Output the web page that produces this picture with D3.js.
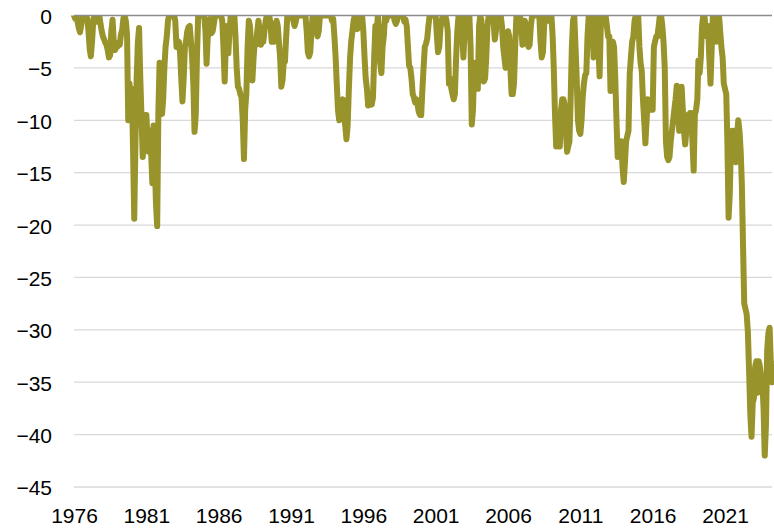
<!DOCTYPE html>
<html>
<head>
<meta charset="utf-8">
<script src="https://cdn.jsdelivr.net/npm/d3@7"></script>
<style>
  html, body { margin: 0; padding: 0; background: #fff; }
  svg { display: block; font-family: Lato, 'Open Sans', sans-serif; }
</style>
</head>
<body>
<div class="chart"></div>
<script>
'use strict';

// Monthly drawdown (%), first value = Jan of the start year
const startYear = 1976;

const v1970s = [
  0, -0.3, -0.2, -0.6, -1.2, -1.6, -0.9, 0, 0, 0, 0, -0.3,            // 1976
  -1.5, -3.2, -3.9, -2.5, -0.5, 0, 0, -0.6, 0, 0, -0.8, -1.5,        // 1977
  -2, -2.3, -2.6, -2.8, -3.3, -4, -3.8, -1.5, -0.4, -2.5, -3.3, -3,  // 1978
  -3, -2.6, -2.8, -1.8, -1.4, -0.3, 0, -0.5, -1.8, -10, -6.5, -8     // 1979
];

const v1980s = [
  -7, -13, -19.4, -12, -6, -2.5, -1.2, -6, -9.7, -13.5, -12, -9.5,
  -9.5, -12, -13, -11, -13, -16, -10.5, -14, -18, -20.1, -9, -4.5,
  -7, -9.4, -8, -5, -3, -2, -0.5, 0, 0, 0, 0, 0,
  -0.5, -3, -3, -2.5, -3.5, -6, -8.2, -6, -3, -2.4, -1.5, -1.1,
  -1, -2.5, -4, -6.5, -11.1, -9.5, -4, 0, 0, 0, 0, 0,
  0, -1.5, -4.6, -2, -1.7, -0.3, -1.7, -1.5, -0.8, 0, 0, 0,
  0, 0, 0, -0.5, -3, -6.3, -2.5, -1, -3.6, -1.5, 0, 0,
  0, 0, -2, -5, -6.8, -7, -7.5, -7.8, -10, -13.7, -9, -7.4,
  -3, -0.5, -1, -3, -6.2, -4, -2.5, -2.8, -1.5, -0.5, -1.5, -2.8,
  -2.5, -2.5, -1.5, -0.5, 0, 0, 0, -0.8, -2.5, -2.3, -2.5, -1
];

const v1990s = [
  -0.5, -1, -2.5, -4, -6.8, -6.2, -4.5, -4.4, -2, 0, 0, 0,
  0, 0, -0.5, -1, -0.6, 0, 0, 0, 0, 0, 0, 0,
  0, -1.5, -3.5, -3.9, -3.5, -1.5, 0, 0, 0, -1, -2, -1.5,
  0, 0, 0, 0, 0, 0, 0, 0, 0, 0, -0.5, -0.3,
  -2, -4, -6.5, -9, -10, -9.5, -8.5, -8, -9.5, -10.5, -11.8, -10.5,
  -7, -4, -2.5, -1.5, -0.5, 0, -0.5, -1.3, 0, 0, 0, 0,
  -1.5, -4, -6, -7, -8.6, -8, -8.2, -8.5, -7.8, -4, -1, -2,
  0, -2, -4.5, -5.5, -3, -2, 0, -0.5, 0, 0, 0, 0,
  0, 0, -0.5, -0.8, -0.5, 0, 0, 0, 0, 0, -0.6, -0.4,
  -1, -3, -4.8, -5, -6, -7.5, -7.8, -8.3, -8, -8.5, -9.2, -9.5
];

const v2000s = [
  -9.5, -7, -5, -3, -2.7, -2.2, -1, 0, 0, 0, 0, 0,
  0, -2, -3.5, -3, -1.2, -0.5, 0, 0, 0, -0.5, -1.5, -6.5,
  -6, -7, -7.5, -8, -7.5, -4, -1.5, 0, 0, 0, -1.5, -4,
  -1.5, 0, 0, -0.5, 0, -3, -10.4, -9, -4.5, -5, -5, -7,
  -1, 0, -0.5, -4.5, -6.3, -6, -4, -1, 0, 0, 0, -0.5,
  -0.5, -2.3, -1.5, 0, 0, 0, 0, -1, -3, -4, -5, -2,
  -1.5, -2, -5, -7.5, -7.5, -6.5, -3, 0, 0, 0, 0, -1,
  -2.8, -1.5, -0.5, -1, -2.5, -3, -2.8, -1, 0, 0, 0, 0,
  0, 0, 0, -2.5, -4, -3.5, -1, 0, 0, -0.5, 0, 0,
  0, -2, -5, -9.4, -12.5, -12, -12.5, -12.5, -9, -8, -8, -8.5
];

const v2010s = [
  -11, -13, -12.5, -12, -8, -3, -0.5, 0, -3, -6, -10, -11,
  -11.3, -10, -7.8, -6.5, -5.7, -5.5, -2, 0, 0, 0, -1, -4,
  -2, 0, 0, -3, -5.8, -1, 0, 0, 0, 0, -1, -2,
  -2, -7.2, -4, -2.5, -3, -6, -10, -13.5, -13, -12.5, -12, -14.5,
  -15.9, -14, -12, -11.5, -11, -5.5, -4, -2.5, -2, -0.5, 0, 0,
  0, -3, -4.5, -5.3, -8, -10, -12.2, -10, -8, -8.5, -9, -9,
  -9, -3, -2.5, -2, -2, -1, 0, 0, -1, -2.5, -5, -12,
  -13.5, -13.8, -13.5, -12, -11, -10, -9, -8, -6.7, -9, -11, -8,
  -6.8, -9, -11, -12.3, -11, -9.5, -9.5, -9.3, -9.3, -12, -14.8, -9.5,
  -9, -8, -4.3, -5.5, -4, -1, 0, 0, -1.5, -2, -1, -4
];

const v2020s = [
  -6.5, -3, 0, -1.5, -2, -2.5, -1, 0, -1.5, -3, -4, -6.5,
  -7, -7.5, -12, -19.3, -17, -12, -11, -11.3, -11, -14, -11.5, -10,
  -11, -13, -16, -22, -27.5, -28, -28.5, -30.2, -34, -38, -40.2, -37,
  -36.5, -33.5, -33, -36, -33, -33.5, -34.5, -35, -37.5, -42, -39, -32,
  -30.3, -29.8, -33, -35
];

const yearTicks = [1976, 1981, 1986, 1991, 1996, 2001, 2006, 2011, 2016, 2021];
const yTicks = [0, -5, -10, -15, -20, -25, -30, -35, -40, -45];

// Initialize
const w = 774;
const h = 528;
const plotLeft = 74;
const plotRight = 772;
const plotTop = 15.5;
const plotBottom = 487;
const color = '#98932a';

const values = [].concat(v1970s, v1980s, v1990s, v2000s, v2010s, v2020s);
const dataset = values.map((v, i) => ({
  date: d3.timeMonth.offset(new Date(startYear, 0, 1), i),
  value: v
}));

const svg = d3.select('.chart')
              .append('svg')
              .attr('width', w)
              .attr('height', h);

// Scales
const xScale = d3.scaleTime()
                 .domain(d3.extent(dataset, d => d.date))
                 .range([plotLeft, plotRight]);

const yScale = d3.scaleLinear()
                 .domain([-45, 0])
                 .range([plotBottom, plotTop]);

// Gridlines
svg.append('g')
  .selectAll('line')
  .data(yTicks.filter(t => t !== 0))
  .enter()
  .append('line')
  .attr('x1', plotLeft)
  .attr('x2', plotRight)
  .attr('y1', d => yScale(d))
  .attr('y2', d => yScale(d))
  .attr('stroke', '#d9d9d9')
  .attr('stroke-width', 1.3);

// Line (clipped at the zero line)
svg.append('clipPath')
  .attr('id', 'plot-clip')
  .append('rect')
  .attr('x', 0)
  .attr('y', plotTop)
  .attr('width', w)
  .attr('height', h - plotTop);

const line = d3.line()
               .x(d => xScale(d.date))
               .y(d => yScale(d.value));

svg.append('path')
  .datum(dataset)
  .attr('clip-path', 'url(#plot-clip)')
  .attr('fill', 'none')
  .attr('stroke', color)
  .attr('stroke-width', 6)
  .attr('stroke-linejoin', 'round')
  .attr('stroke-linecap', 'round')
  .attr('d', line);

// Zero axis line
svg.append('line')
  .attr('x1', plotLeft)
  .attr('x2', plotRight)
  .attr('y1', yScale(0))
  .attr('y2', yScale(0))
  .attr('stroke', '#8c8c8c')
  .attr('stroke-width', 1.6);

// Axes
const yAxis = d3.axisLeft(yScale)
                .tickValues(yTicks)
                .tickSize(0)
                .tickPadding(22);

const gy = svg.append('g')
  .attr('id', 'y-axis')
  .attr('transform', `translate(${plotLeft}, 0)`)
  .call(yAxis);

gy.select('.domain').remove();
gy.selectAll('text')
  .attr('dy', '0.38em')
  .style('font-size', '21px')
  .style('fill', '#000');

const xAxis = d3.axisBottom(xScale)
                .tickValues(yearTicks.map(yr => new Date(yr, 0, 1)))
                .tickFormat(d3.timeFormat('%Y'))
                .tickSize(0);

const gx = svg.append('g')
  .attr('id', 'x-axis')
  .attr('transform', `translate(0, ${plotBottom})`)
  .call(xAxis);

gx.select('.domain').remove();
gx.selectAll('text')
  .attr('y', 36)
  .attr('dy', 0)
  .style('font-size', '21px')
  .style('fill', '#000');
</script>
</body>
</html>
